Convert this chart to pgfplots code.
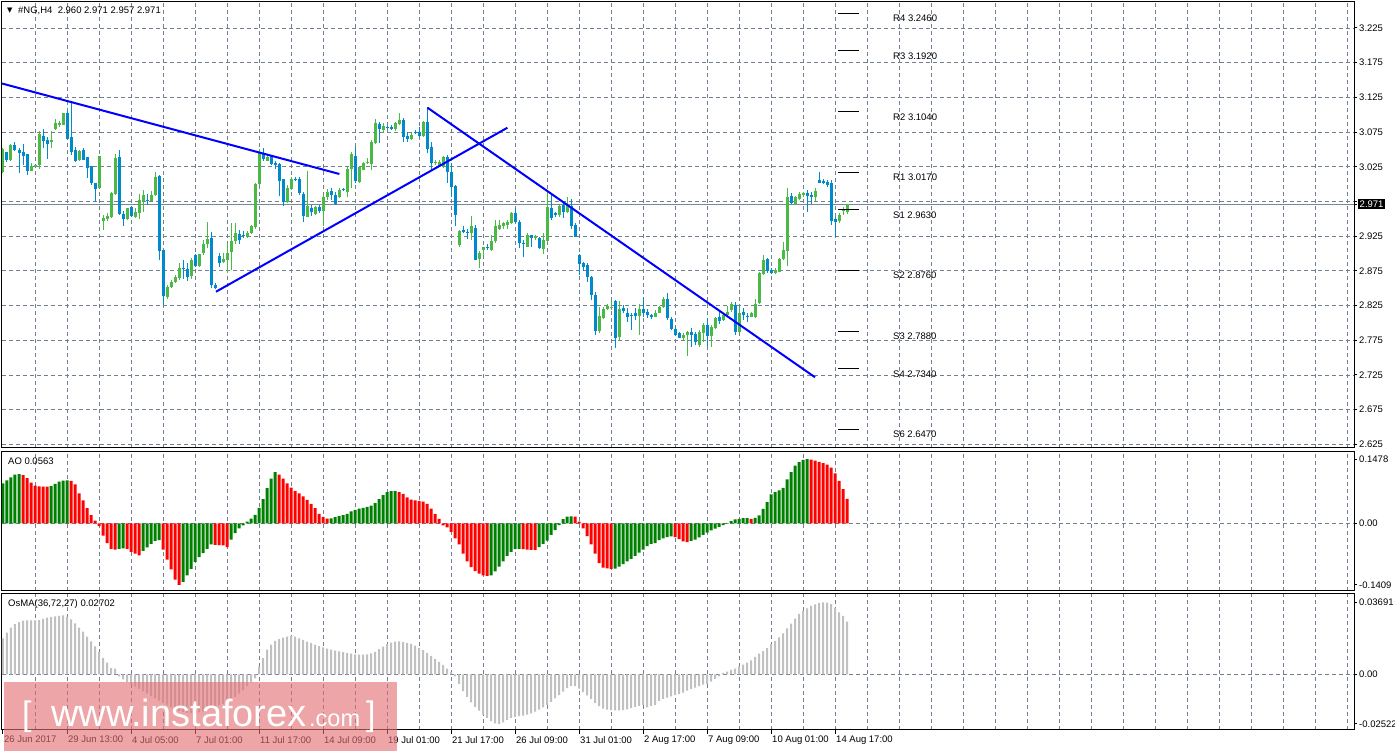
\documentclass[border=0pt]{standalone}
\usepackage{fontspec}
\setmainfont{Liberation Sans}
\newfontfamily\dejavu{DejaVu Sans}
\usepackage{pgfplots}
\usepackage{pgfplotstable}
\pgfplotsset{compat=1.18}

\definecolor{cgreen}{RGB}{75,185,70}
\definecolor{cblue}{RGB}{0,137,204}
\definecolor{gridc}{RGB}{112,128,144}
\definecolor{pricec}{RGB}{119,136,153}
\definecolor{tline}{RGB}{0,0,255}
\definecolor{aogreen}{RGB}{0,128,0}
\definecolor{aored}{RGB}{255,0,0}
\definecolor{osmac}{RGB}{192,192,192}
\definecolor{wm}{RGB}{226,110,116}

% H4 candles: bar index, open, high, low, close
\pgfplotstableread{
i o h l c
0 3.017 3.052 3.016 3.050
1 3.046 3.047 3.0325 3.035
2 3.035 3.058 3.034 3.0565
3 3.0565 3.060 3.048 3.049
4 3.049 3.0527 3.0167 3.045
5 3.046 3.058 3.0277 3.0407
6 3.043 3.043 3.0133 3.0195
7 3.0195 3.030 3.019 3.0262
8 3.0243 3.028 3.024 3.0277
9 3.0277 3.0767 3.022 3.0719
10 3.0695 3.0795 3.0527 3.0627
11 3.0637 3.0685 3.0363 3.058
12 3.0613 3.0767 3.0517 3.0637
13 3.079 3.094 3.0776 3.088
14 3.0853 3.091 3.083 3.088
15 3.0853 3.102 3.085 3.102
16 3.102 3.106 3.0656 3.0656
17 3.068 3.119 3.042 3.047
18 3.049 3.053 3.0325 3.034
19 3.035 3.049 3.034 3.048
20 3.049 3.052 3.035 3.035
21 3.0387 3.0397 3.0095 3.0238
22 3.026 3.026 2.9989 3.002
23 3.0017 3.0017 2.9739 2.9936
24 2.995 3.041 2.995 3.0406
25 2.9475 2.9556 2.9345 2.9518
26 2.9494 2.958 2.947 2.9542
27 2.9523 2.9893 2.951 2.9878
28 2.9854 3.043 2.9845 3.0373
29 3.0392 3.0493 2.9556 2.9575
30 2.957 2.9614 2.9403 2.9494
31 2.9504 2.9662 2.9485 2.9652
32 2.9671 2.969 2.9527 2.9537
33 2.9527 2.965 2.951 2.9595
34 2.958 2.9864 2.950 2.9768
35 2.9758 2.9917 2.9595 2.9845
36 2.977 2.9854 2.970 2.9763
37 2.9763 2.990 2.975 2.9845
38 2.9845 3.017 2.983 3.011
39 3.012 3.0133 2.8907 2.9042
40 2.905 2.905 2.826 2.839
41 2.838 2.854 2.8345 2.8525
42 2.852 2.862 2.850 2.8595
43 2.859 2.869 2.857 2.8667
44 2.865 2.8865 2.862 2.8792
45 2.879 2.891 2.8635 2.878
46 2.878 2.886 2.861 2.8667
47 2.868 2.893 2.863 2.891
48 2.898 2.899 2.881 2.8817
49 2.8817 2.900 2.881 2.8995
50 2.901 2.919 2.898 2.9138
51 2.9138 2.946 2.9076 2.921
52 2.922 2.9316 2.850 2.854
53 2.854 2.857 2.849 2.851
54 2.8965 2.9005 2.8813 2.887
55 2.888 2.901 2.886 2.892
56 2.8907 2.915 2.872 2.901
57 2.902 2.944 2.876 2.918
58 2.918 2.944 2.914 2.929
59 2.928 2.934 2.914 2.920
60 2.926 2.932 2.922 2.925
61 2.924 2.932 2.923 2.930
62 2.930 2.941 2.928 2.939
63 2.938 3.002 2.936 3.0003
64 3.000 3.050 2.999 3.0445
65 3.043 3.0517 3.034 3.0359
66 3.034 3.042 3.033 3.0397
67 3.040 3.042 3.028 3.0292
68 3.031 3.034 3.022 3.028
69 3.029 3.031 2.983 3.005
70 3.007 3.008 2.968 2.974
71 2.974 2.999 2.973 2.995
72 2.993 3.011 2.992 3.007
73 3.0075 3.010 3.004 3.006
74 3.008 3.010 2.984 2.987
75 2.986 2.988 2.946 2.954
76 2.953 3.019 2.952 2.968
77 2.966 2.970 2.954 2.960
78 2.957 2.969 2.956 2.967
79 2.967 2.970 2.959 2.961
80 2.961 2.985 2.939 2.982
81 2.981 2.993 2.977 2.9893
82 2.990 2.994 2.977 2.985
83 2.985 2.989 2.970 2.971
84 2.981 2.994 2.980 2.992
85 2.993 2.995 2.990 2.991
86 2.9893 3.0243 2.981 3.022
87 3.022 3.047 2.994 3.043
88 3.040 3.054 3.001 3.005
89 3.003 3.026 3.001 3.024
90 3.021 3.032 3.020 3.030
91 3.030 3.037 3.029 3.0325
92 3.029 3.0637 3.020 3.060
93 3.059 3.0935 3.058 3.0887
94 3.0867 3.090 3.0589 3.0795
95 3.078 3.0877 3.073 3.0839
96 3.082 3.084 3.079 3.0805
97 3.083 3.085 3.078 3.079
98 3.079 3.090 3.077 3.0877
99 3.0867 3.103 3.085 3.0925
100 3.0925 3.095 3.061 3.0675
101 3.069 3.0757 3.061 3.0647
102 3.0647 3.073 3.063 3.071
103 3.0757 3.078 3.0723 3.0743
104 3.0757 3.082 3.068 3.069
105 3.069 3.091 3.068 3.089
106 3.089 3.1117 3.0445 3.0507
107 3.054 3.060 3.020 3.031
108 3.030 3.035 3.0276 3.0315
109 3.026 3.035 3.024 3.032
110 3.025 3.0406 3.023 3.0386
111 3.0396 3.042 3.002 3.018
112 3.018 3.030 2.982 2.996
113 2.9974 2.999 2.939 2.9556
114 2.9124 2.934 2.910 2.9326
115 2.934 2.939 2.929 2.931
116 2.9316 2.935 2.9206 2.9306
117 2.929 2.954 2.920 2.939
118 2.937 2.941 2.890 2.8908
119 2.8918 2.903 2.879 2.9014
120 2.905 2.910 2.896 2.909
121 2.910 2.914 2.905 2.9086
122 2.905 2.927 2.904 2.918
123 2.918 2.9484 2.915 2.939
124 2.935 2.9484 2.934 2.941
125 2.9398 2.946 2.935 2.9436
126 2.941 2.948 2.936 2.9455
127 2.9436 2.960 2.943 2.959
128 2.959 2.965 2.944 2.946
129 2.946 2.948 2.9076 2.915
130 2.9158 2.920 2.8946 2.914
131 2.910 2.929 2.909 2.9268
132 2.9268 2.927 2.910 2.923
133 2.922 2.927 2.920 2.9254
134 2.922 2.924 2.906 2.9076
135 2.906 2.9302 2.900 2.919
136 2.9186 2.9916 2.917 2.9666
137 2.965 2.986 2.948 2.951
138 2.958 2.960 2.9532 2.956
139 2.9556 2.970 2.953 2.9686
140 2.970 2.975 2.951 2.960
141 2.960 2.981 2.958 2.970
142 2.9686 2.978 2.936 2.9398
143 2.941 2.9436 2.9234 2.924
144 2.898 2.899 2.869 2.8846
145 2.886 2.8874 2.8754 2.881
146 2.8836 2.886 2.8596 2.866
147 2.8668 2.868 2.833 2.8404
148 2.8404 2.845 2.783 2.789
149 2.789 2.8236 2.785 2.810
150 2.807 2.8236 2.805 2.8198
151 2.8198 2.828 2.819 2.8246
152 2.8212 2.832 2.819 2.8236
153 2.831 2.8332 2.7636 2.778
154 2.7794 2.831 2.7756 2.8198
155 2.8212 2.826 2.814 2.8178
156 2.814 2.821 2.802 2.809
157 2.8116 2.815 2.790 2.811
158 2.814 2.8212 2.8044 2.810
159 2.810 2.827 2.783 2.8198
160 2.8198 2.838 2.809 2.814
161 2.8164 2.820 2.807 2.8116
162 2.8116 2.813 2.806 2.809
163 2.809 2.818 2.808 2.815
164 2.815 2.8246 2.814 2.8226
165 2.8226 2.838 2.821 2.834
166 2.834 2.8438 2.804 2.8068
167 2.806 2.809 2.790 2.791
168 2.7919 2.795 2.781 2.7828
169 2.785 2.7876 2.778 2.779
170 2.779 2.785 2.7756 2.7828
171 2.7828 2.788 2.7526 2.7876
172 2.7866 2.7924 2.766 2.7828
173 2.7838 2.787 2.768 2.773
174 2.768 2.7895 2.766 2.787
175 2.7852 2.7996 2.773 2.797
176 2.797 2.8068 2.767 2.7814
177 2.7814 2.797 2.766 2.7948
178 2.7924 2.809 2.791 2.8068
179 2.809 2.816 2.799 2.8035
180 2.8044 2.814 2.803 2.8116
181 2.8116 2.825 2.809 2.8164
182 2.819 2.8308 2.816 2.827
183 2.826 2.8308 2.783 2.7876
184 2.7876 2.821 2.785 2.814
185 2.816 2.821 2.804 2.8116
186 2.8104 2.814 2.802 2.8094
187 2.809 2.8164 2.808 2.814
188 2.809 2.835 2.807 2.828
189 2.8294 2.874 2.827 2.8716
190 2.8706 2.898 2.869 2.8908
191 2.8918 2.893 2.8716 2.8754
192 2.876 2.879 2.8706 2.8716
193 2.8716 2.879 2.870 2.8764
194 2.874 2.893 2.873 2.8918
195 2.8918 2.917 2.890 2.9052
196 2.904 2.994 2.882 2.982
197 2.9834 2.9868 2.972 2.973
198 2.971 2.983 2.970 2.981
199 2.9786 2.988 2.977 2.986
200 2.9844 2.989 2.982 2.9868
201 2.9878 2.9916 2.9604 2.983
202 2.984 2.989 2.972 2.981
203 2.982 2.994 2.975 2.9906
204 3.006 3.018 3.0012 3.0022
205 3.0046 3.007 3.0002 3.0012
206 3.0031 3.006 2.9964 2.9988
207 3.0012 3.006 2.9412 2.9474
208 2.9494 2.9532 2.9244 2.946
209 2.9474 2.959 2.9436 2.9556
210 2.9623 2.9666 2.9556 2.9628
211 2.960 2.971 2.957 2.971
}\candles

% Awesome Oscillator: value, g=1 rising (green), 0 falling (red)
\pgfplotstableread{
i v g
0 0.092 1
1 0.099 1
2 0.106 1
3 0.112 1
4 0.113 1
5 0.111 0
6 0.104 0
7 0.094 0
8 0.087 0
9 0.085 0
10 0.0848 0
11 0.0845 0
12 0.086 1
13 0.091 1
14 0.096 1
15 0.0985 1
16 0.0988 1
17 0.098 0
18 0.090 0
19 0.069 0
20 0.053 0
21 0.035 0
22 0.019 0
23 0.0068 0
24 -0.006 0
25 -0.028 0
26 -0.045 0
27 -0.058 0
28 -0.060 0
29 -0.058 1
30 -0.057 1
31 -0.058 0
32 -0.065 0
33 -0.069 0
34 -0.073 0
35 -0.063 1
36 -0.055 1
37 -0.047 1
38 -0.040 1
39 -0.038 1
40 -0.060 0
41 -0.083 0
42 -0.105 0
43 -0.129 0
44 -0.1409 0
45 -0.134 1
46 -0.119 1
47 -0.104 1
48 -0.088 1
49 -0.077 1
50 -0.068 1
51 -0.058 1
52 -0.048 1
53 -0.049 0
54 -0.0495 0
55 -0.050 0
56 -0.054 0
57 -0.037 1
58 -0.022 1
59 -0.011 1
60 -0.0045 1
61 0.0045 1
62 0.011 1
63 0.020 1
64 0.036 1
65 0.056 1
66 0.081 1
67 0.103 1
68 0.118 1
69 0.112 0
70 0.103 0
71 0.092 0
72 0.082 0
73 0.074 0
74 0.069 0
75 0.062 0
76 0.054 0
77 0.045 0
78 0.035 0
79 0.022 0
80 0.015 0
81 0.011 0
82 0.012 1
83 0.0145 1
84 0.017 1
85 0.019 1
86 0.022 1
87 0.028 1
88 0.031 1
89 0.034 1
90 0.036 1
91 0.038 1
92 0.041 1
93 0.047 1
94 0.056 1
95 0.065 1
96 0.072 1
97 0.074 1
98 0.0745 1
99 0.0717 0
100 0.068 0
101 0.060 0
102 0.055 0
103 0.053 0
104 0.0515 0
105 0.050 0
106 0.045 0
107 0.034 0
108 0.022 0
109 0.0106 0
110 -0.0045 0
111 -0.009 0
112 -0.019 0
113 -0.034 0
114 -0.048 0
115 -0.069 0
116 -0.087 0
117 -0.100 0
118 -0.109 0
119 -0.115 0
120 -0.119 0
121 -0.120 0
122 -0.119 1
123 -0.110 1
124 -0.099 1
125 -0.087 1
126 -0.074 1
127 -0.065 1
128 -0.059 1
129 -0.058 1
130 -0.059 0
131 -0.060 0
132 -0.0605 0
133 -0.0607 0
134 -0.054 1
135 -0.047 1
136 -0.039 1
137 -0.026 1
138 -0.015 1
139 -0.0035 1
140 0.010 1
141 0.0157 1
142 0.0162 1
143 0.0157 0
144 0.0045 0
145 -0.011 0
146 -0.029 0
147 -0.048 0
148 -0.069 0
149 -0.091 0
150 -0.101 0
151 -0.103 0
152 -0.104 0
153 -0.1035 1
154 -0.099 1
155 -0.093 1
156 -0.087 1
157 -0.081 1
158 -0.074 1
159 -0.067 1
160 -0.060 1
161 -0.052 1
162 -0.047 1
163 -0.045 1
164 -0.038 1
165 -0.034 1
166 -0.031 1
167 -0.0298 1
168 -0.031 0
169 -0.036 0
170 -0.041 0
171 -0.043 0
172 -0.040 1
173 -0.037 1
174 -0.032 1
175 -0.026 1
176 -0.021 1
177 -0.016 1
178 -0.0115 1
179 -0.0075 1
180 -0.004 1
181 -0.001 1
182 0.0054 1
183 0.0092 1
184 0.0107 1
185 0.0122 1
186 0.0125 1
187 0.0107 0
188 0.013 1
189 0.0184 1
190 0.0337 1
191 0.049 1
192 0.0666 1
193 0.072 1
194 0.0757 1
195 0.0818 1
196 0.101 1
197 0.118 1
198 0.133 1
199 0.141 1
200 0.146 1
201 0.1478 1
202 0.1465 0
203 0.1440 0
204 0.1415 0
205 0.1385 0
206 0.1350 0
207 0.1280 0
208 0.1150 0
209 0.0980 0
210 0.0790 0
211 0.0563 0
}\aodata

% OsMA(36,72,27)
\pgfplotstableread{
i v
0 0.0185
1 0.0214
2 0.0240
3 0.0257
4 0.0267
5 0.0275
6 0.0276
7 0.0276
8 0.0276
9 0.0278
10 0.0284
11 0.0290
12 0.0294
13 0.0297
14 0.0300
15 0.0302
16 0.0296
17 0.0282
18 0.0261
19 0.0240
20 0.0219
21 0.0194
22 0.0169
23 0.0144
24 0.0114
25 0.0085
26 0.0060
27 0.0032
28 0.0030
29 -0.0010
30 -0.0025
31 -0.0038
32 -0.0050
33 -0.0062
34 -0.0074
35 -0.0086
36 -0.0098
37 -0.0110
38 -0.0122
39 -0.0133
40 -0.0145
41 -0.0157
42 -0.0168
43 -0.0178
44 -0.0186
45 -0.0192
46 -0.0196
47 -0.0198
48 -0.0197
49 -0.0194
50 -0.0189
51 -0.0182
52 -0.0174
53 -0.0166
54 -0.0158
55 -0.0150
56 -0.0142
57 -0.0130
58 -0.0115
59 -0.0098
60 -0.0080
61 -0.0060
62 -0.0040
63 -0.0020
64 0.0040
65 0.0085
66 0.0127
67 0.0152
68 0.0172
69 0.0181
70 0.0188
71 0.0194
72 0.0197
73 0.0193
74 0.0185
75 0.0177
76 0.0168
77 0.0160
78 0.0152
79 0.0145
80 0.0138
81 0.0132
82 0.0127
83 0.0122
84 0.0118
85 0.0114
86 0.0109
87 0.0106
88 0.0103
89 0.0102
90 0.0102
91 0.0103
92 0.0108
93 0.0116
94 0.0129
95 0.0142
96 0.0155
97 0.0163
98 0.0168
99 0.0169
100 0.0166
101 0.0161
102 0.0156
103 0.0148
104 0.0136
105 0.0124
106 0.0110
107 0.0095
108 0.0080
109 0.0064
110 0.0048
111 0.0030
112 0.0012
113 -0.0010
114 -0.0048
115 -0.0085
116 -0.0115
117 -0.0142
118 -0.0165
119 -0.0185
120 -0.0205
121 -0.0222
122 -0.0238
123 -0.0250
124 -0.0252
125 -0.0245
126 -0.0232
127 -0.0222
128 -0.0216
129 -0.0213
130 -0.0210
131 -0.0205
132 -0.0199
133 -0.0190
134 -0.0180
135 -0.0168
136 -0.0155
137 -0.0140
138 -0.0122
139 -0.0105
140 -0.0088
141 -0.0070
142 -0.0058
143 -0.0060
144 -0.0072
145 -0.0090
146 -0.0107
147 -0.0125
148 -0.0145
149 -0.0162
150 -0.0174
151 -0.0180
152 -0.0182
153 -0.0183
154 -0.0183
155 -0.0182
156 -0.0178
157 -0.0172
158 -0.0165
159 -0.0160
160 -0.0155
161 -0.0168
162 -0.0160
163 -0.0157
164 -0.0135
165 -0.0125
166 -0.0118
167 -0.0112
168 -0.0105
169 -0.0100
170 -0.0093
171 -0.0083
172 -0.0074
173 -0.0067
174 -0.0060
175 -0.0052
176 -0.0048
177 -0.0037
178 -0.0022
179 -0.0010
180 0.0008
181 0.0015
182 0.0023
183 0.0030
184 0.0042
185 0.0051
186 0.0060
187 0.0072
188 0.0090
189 0.0106
190 0.0120
191 0.0135
192 0.0155
193 0.0172
194 0.0190
195 0.0210
196 0.0235
197 0.0260
198 0.0285
199 0.0310
200 0.0325
201 0.0338
202 0.0350
203 0.0358
204 0.0365
205 0.03691
206 0.0367
207 0.0360
208 0.0340
209 0.0318
210 0.0300
211 0.02702
}\osmadata

\pgfplotsset{
  mt/.style={
    scale only axis, width=1352pt, xmin=-0.25, xmax=337.75,
    axis line style={line width=1pt, black},
    xtick={8,16,...,336}, xticklabels={}, xmajorgrids, xtick style={draw=none},
    grid style={dash pattern=on 4pt off 3pt, color=gridc, line width=0.8pt},
    ytick pos=right, yticklabel pos=right, tick align=outside,
    ytick style={black, line width=1pt}, major tick length=3pt,
    scaled y ticks=false,
    ticklabel style={font=\fontsize{9.5}{11}\selectfont},
    yticklabel style={anchor=west, inner sep=0pt, xshift=2pt},
    unbounded coords=discard,
  },
}
\tikzset{lab/.style={anchor=west, inner sep=0pt, font=\fontsize{9.5}{11}\selectfont}}

\begin{document}
\begin{tikzpicture}
\path[use as bounding box, fill=white] (0pt,0pt) rectangle (1395pt,751pt);

% ---- price panel ----
\begin{axis}[mt, at={(2pt,303pt)}, anchor=south west, height=446pt,
  ymin=2.61981, ymax=3.26246, ymajorgrids,
  ytick={2.625,2.675,2.725,2.775,2.825,2.875,2.925,2.975,3.025,3.075,3.125,3.175,3.225},
  yticklabels={2.625,2.675,2.725,2.775,2.825,2.875,2.925,,3.025,3.075,3.125,3.175,3.225},
  extra y ticks={2.971}, extra y tick labels={2.971},
  extra y tick style={yticklabel style={fill=black, text=white, inner sep=1.5pt, xshift=-1pt}},
]
\addplot[pricec, line width=1pt] coordinates {(-0.25,2.971) (337.75,2.971)};
% wicks
\addplot[cgreen, line width=1pt, quiver={u=0, v=\thisrow{h}-\thisrow{l}}]
  table[x=i, y expr={\thisrow{c}>=\thisrow{o} ? \thisrow{l} : nan}] {\candles};
\addplot[cblue, line width=1pt, quiver={u=0, v=\thisrow{h}-\thisrow{l}}]
  table[x=i, y expr={\thisrow{c}<\thisrow{o} ? \thisrow{l} : nan}] {\candles};
% bodies
\addplot[cgreen, line width=3pt, quiver={u=0, v=\thisrow{c}-\thisrow{o}}]
  table[x=i, y expr={\thisrow{c}>=\thisrow{o} ? \thisrow{o} : nan}] {\candles};
\addplot[cblue, line width=3pt, quiver={u=0, v=\thisrow{c}-\thisrow{o}}]
  table[x=i, y expr={\thisrow{c}<\thisrow{o} ? \thisrow{o} : nan}] {\candles};
% trend lines
\addplot[tline, line width=2pt] coordinates {(-0.25,3.145) (84.1,3.0146)};
\addplot[tline, line width=2pt] coordinates {(53.25,2.845) (126.1,3.0813)};
\addplot[tline, line width=2pt] coordinates {(106.1,3.1102) (203,2.7217)};
% pivot levels
\addplot[black, line width=1pt] coordinates {(208.75,3.246) (214,3.246)};
\addplot[black, line width=1pt] coordinates {(208.75,3.192) (214,3.192)};
\addplot[black, line width=1pt] coordinates {(208.75,3.104) (214,3.104)};
\addplot[black, line width=1pt] coordinates {(208.75,3.017) (214,3.017)};
\addplot[black, line width=1pt] coordinates {(208.75,2.963) (214,2.963)};
\addplot[black, line width=1pt] coordinates {(208.75,2.876) (214,2.876)};
\addplot[black, line width=1pt] coordinates {(208.75,2.788) (214,2.788)};
\addplot[black, line width=1pt] coordinates {(208.75,2.734) (214,2.734)};
\addplot[black, line width=1pt] coordinates {(208.75,2.647) (214,2.647)};
\node[lab] at ([yshift=-5pt]axis cs:222.5,3.246) {R4 3.2460};
\node[lab] at ([yshift=-5pt]axis cs:222.5,3.192) {R3 3.1920};
\node[lab] at ([yshift=-5pt]axis cs:222.5,3.104) {R2 3.1040};
\node[lab] at ([yshift=-5pt]axis cs:222.5,3.017) {R1 3.0170};
\node[lab] at ([yshift=-5pt]axis cs:222.5,2.963) {S1 2.9630};
\node[lab] at ([yshift=-5pt]axis cs:222.5,2.876) {S2 2.8760};
\node[lab] at ([yshift=-5pt]axis cs:222.5,2.788) {S3 2.7880};
\node[lab] at ([yshift=-5pt]axis cs:222.5,2.734) {S4 2.7340};
\node[lab] at ([yshift=-5pt]axis cs:222.5,2.647) {S6 2.6470};
\end{axis}

% ---- AO panel ----
\begin{axis}[mt, at={(2pt,160pt)}, anchor=south west, height=139pt,
  ymin=-0.1548, ymax=0.164,
  ytick={-0.1409,0,0.1478}, yticklabels={-0.1409,0.00,0.1478},
]
\addplot[gridc, dash pattern=on 4pt off 3pt, line width=0.8pt] coordinates {(-0.25,0) (337.75,0)};
\addplot[ybar, bar width=3pt, bar shift=0pt, fill=aogreen, draw=none]
  table[x=i, y expr={\thisrow{g}==1 ? \thisrow{v} : nan}] {\aodata};
\addplot[ybar, bar width=3pt, bar shift=0pt, fill=aored, draw=none]
  table[x=i, y expr={\thisrow{g}==0 ? \thisrow{v} : nan}] {\aodata};
\end{axis}

% ---- OsMA panel ----
\begin{axis}[mt, at={(2pt,21pt)}, anchor=south west, height=136pt,
  ymin=-0.02836, ymax=0.04113,
  ytick={-0.02522,0,0.03691}, yticklabels={-0.02522,0.00,0.03691},
  xtick pos=bottom,
  extra x ticks={0,16,32,48,64,80,96,112,128,144,160,176,192,208},
  extra x tick labels={26 Jun 2017,29 Jun 13:00,4 Jul 05:00,7 Jul 01:00,11 Jul 17:00,14 Jul 09:00,19 Jul 01:00,21 Jul 17:00,26 Jul 09:00,31 Jul 01:00,2 Aug 17:00,7 Aug 09:00,10 Aug 01:00,14 Aug 17:00},
  extra x tick style={grid=none, xtick style={draw=black, line width=1pt}, major tick length=4pt,
    xticklabel style={anchor=north west, inner sep=0pt, xshift=1pt, yshift=-2pt}},
]
\addplot[gridc, dash pattern=on 4pt off 3pt, line width=0.8pt] coordinates {(-0.25,0) (337.75,0)};
\addplot[ybar, bar width=2pt, bar shift=0pt, fill=osmac, draw=none]
  table[x=i, y=v] {\osmadata};
\end{axis}

% ---- panel captions ----
\node[anchor=west, inner sep=0pt] at (7pt,740pt) {\dejavu\fontsize{7}{7}\selectfont ▼};
\node[lab] at (18pt,740pt) {\#NG,H4\ \ 2.960 2.971 2.957 2.971};
\node[lab] at (8pt,290pt) {AO 0.0563};
\node[lab] at (8pt,147pt) {OsMA(36,72,27) 0.02702};

% ---- watermark ----
\fill[wm, opacity=0.62] (3.5pt,0pt) rectangle (397pt,69pt);
\node[anchor=base west, inner sep=0pt, text=white, font=\fontsize{34}{34}\selectfont] at (22pt,25pt) {[};
\node[anchor=base west, inner sep=0pt, text=white, font=\fontsize{38}{38}\selectfont] at (51pt,24pt) {www.instaforex};
\node[anchor=base west, inner sep=0pt, text=white, font=\fontsize{23.5}{24}\selectfont] at (309pt,24pt) {.com};
\node[anchor=base west, inner sep=0pt, text=white, font=\fontsize{34}{34}\selectfont] at (366pt,25pt) {]};
\end{tikzpicture}
\end{document}
